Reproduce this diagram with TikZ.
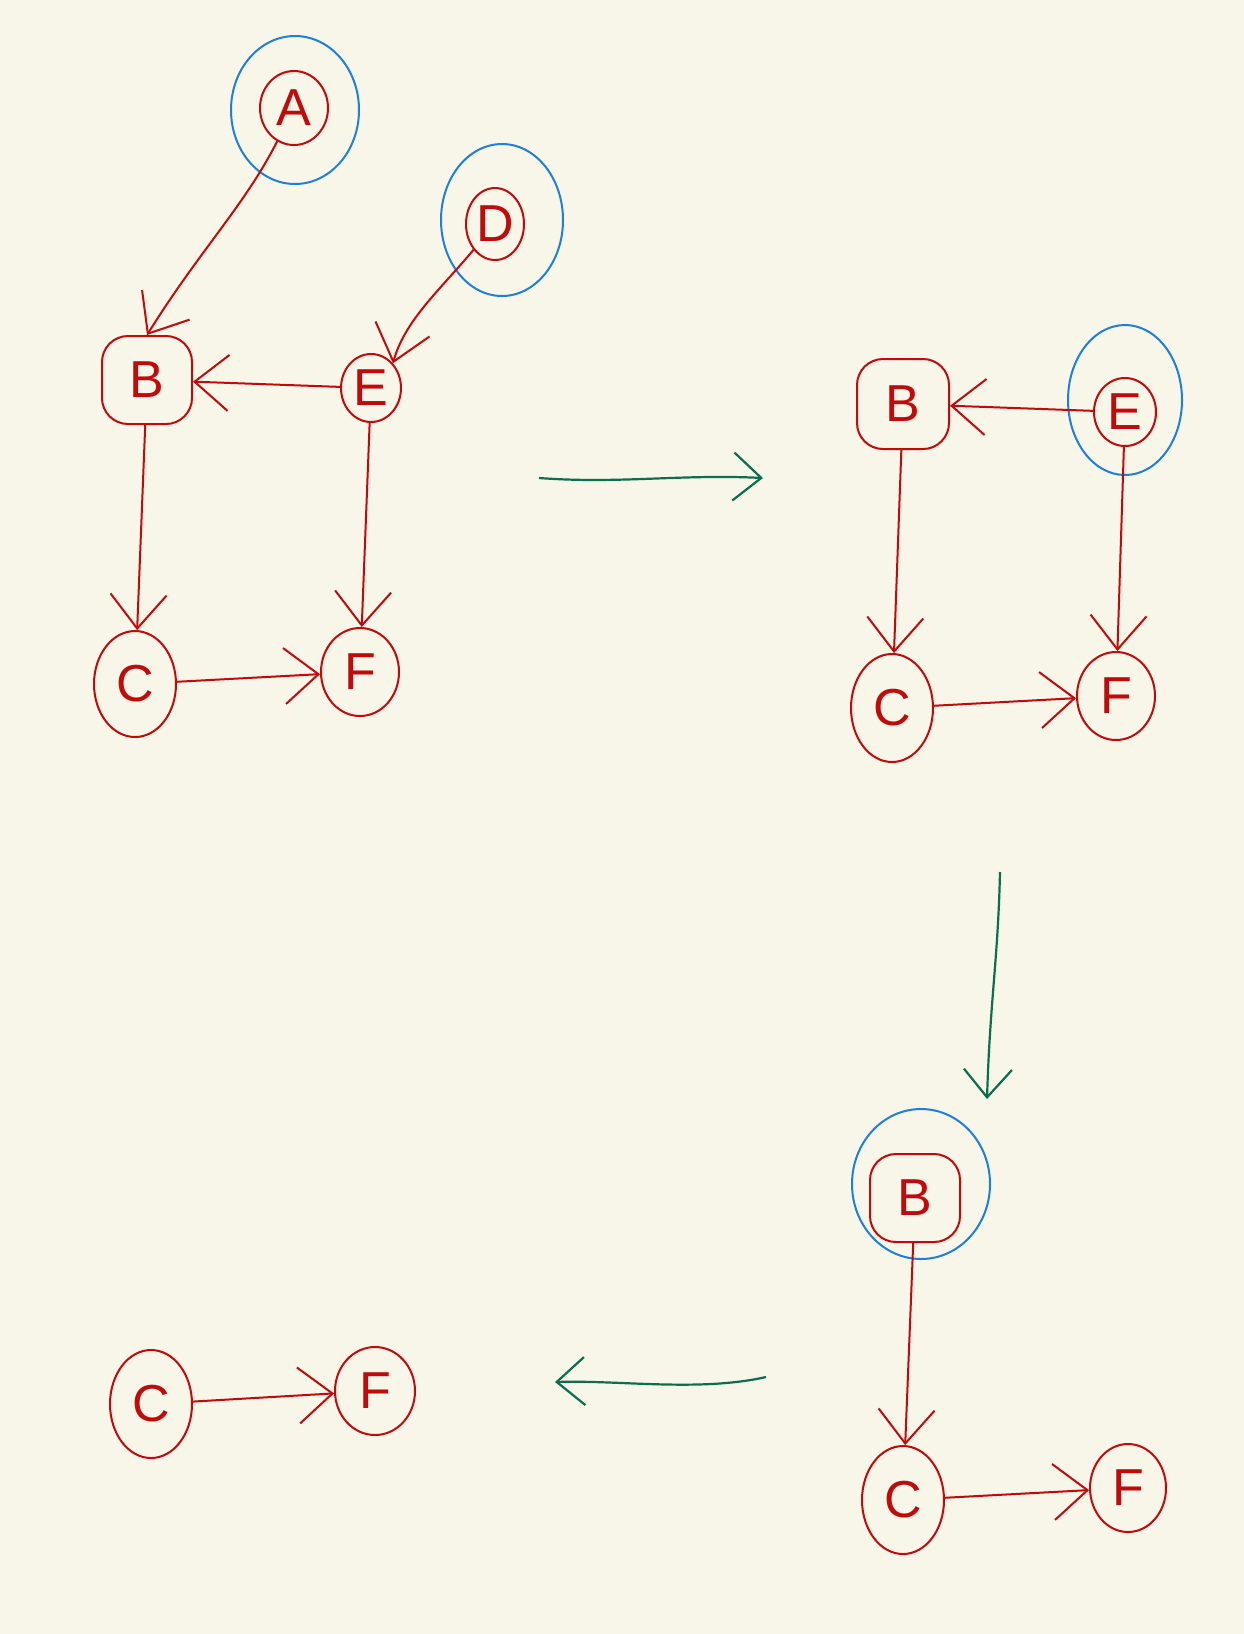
\documentclass[tikz,border=0pt]{standalone}
\usepackage{fontspec}
\setmainfont{Liberation Sans}
\usetikzlibrary{shapes.geometric,arrows.meta}
\definecolor{bgc}{HTML}{F8F5E9}
\definecolor{inkred}{HTML}{C20A0A}
\definecolor{inkblue}{HTML}{1E7FE0}
\definecolor{inkgreen}{HTML}{0B6E4C}
\tikzset{
  vert/.style={ellipse, draw=inkred, line width=2pt, inner sep=0pt, text=inkred,
    font=\fontsize{52}{52}\selectfont},
  vertsq/.style={rectangle, rounded corners=26pt, draw=inkred, line width=2pt, inner sep=0pt, text=inkred,
    font=\fontsize{52}{52}\selectfont},
  ring/.style={ellipse, draw=inkblue, line width=2pt, inner sep=0pt},
  edge/.style={draw=inkred, line width=2pt, -{Straight Barb[length=34pt,width=56pt,line width=2pt]}},
  step arrow/.style={draw=inkgreen, line width=2.2pt, -{Straight Barb[length=28pt,width=48pt,line width=2.2pt]}}
}
\begin{document}
\begin{tikzpicture}[x=1pt,y=-1pt]
\fill[bgc] (0,0) rectangle (1244,1634);
\useasboundingbox (0,0) rectangle (1244,1634);

% ---------- panel 1 ----------
\node[vert, minimum width=68pt, minimum height=74pt] (A1) at (294,108) {A};
\node[ring, minimum width=128pt, minimum height=148pt] (hA1) at (295,110) {};
\node[vert, minimum width=58pt, minimum height=72pt] (D1) at (495,224) {D};
\node[ring, minimum width=122pt, minimum height=152pt] (hD1) at (502,220) {};
\node[vertsq, minimum width=90pt, minimum height=88pt] (B1) at (147,380) {B};
\node[vert, minimum width=60pt, minimum height=68pt] (E1) at (371,388) {E};
\node[vert, minimum width=82pt, minimum height=106pt] (C1) at (135,684) {C};
\node[vert, minimum width=78pt, minimum height=88pt] (F1) at (360,672) {F};

\draw[edge] (A1) .. controls (245,205) and (200,250) .. (B1.north);
\draw[edge] (D1) .. controls (440,290) and (405,320) .. (E1.north east);
\draw[edge] (E1) -- (B1);
\draw[edge] (B1) -- (C1);
\draw[edge] (E1) -- (F1);
\draw[edge] (C1) -- (F1);

\coordinate (g1s) at (539,478);
\coordinate (g1e) at (763,478);
\draw[step arrow] (g1s) .. controls (620,484) and (680,474) .. (g1e);

% ---------- panel 2 ----------
\node[vertsq, minimum width=92pt, minimum height=90pt] (B2) at (903,404) {B};
\node[vert, minimum width=62pt, minimum height=68pt] (E2) at (1125,412) {E};
\node[ring, minimum width=114pt, minimum height=150pt] (hE2) at (1125,400) {};
\node[vert, minimum width=82pt, minimum height=108pt] (C2) at (892,708) {C};
\node[vert, minimum width=78pt, minimum height=88pt] (F2) at (1116,696) {F};

\draw[edge] (E2) -- (B2);
\draw[edge] (B2) -- (C2);
\draw[edge] (E2) -- (F2);
\draw[edge] (C2) -- (F2);

\coordinate (g2s) at (1000,872);
\coordinate (g2e) at (987,1099);
\draw[step arrow] (g2s) .. controls (998,960) and (990,1000) .. (g2e);

% ---------- panel 3 ----------
\node[vertsq, minimum width=90pt, minimum height=88pt] (B3) at (915,1198) {B};
\node[ring, minimum width=138pt, minimum height=150pt] (hB3) at (921,1184) {};
\node[vert, minimum width=82pt, minimum height=108pt] (C3) at (903,1500) {C};
\node[vert, minimum width=76pt, minimum height=88pt] (F3) at (1128,1488) {F};

\draw[edge] (B3) -- (C3);
\draw[edge] (C3) -- (F3);

\coordinate (g3s) at (766,1377);
\coordinate (g3e) at (555,1382);
\draw[step arrow] (g3s) .. controls (700,1392) and (620,1380) .. (g3e);

% ---------- panel 4 ----------
\node[vert, minimum width=82pt, minimum height=108pt] (C4) at (151,1404) {C};
\node[vert, minimum width=80pt, minimum height=88pt] (F4) at (375,1391) {F};

\draw[edge] (C4) -- (F4);
\end{tikzpicture}
\end{document}
